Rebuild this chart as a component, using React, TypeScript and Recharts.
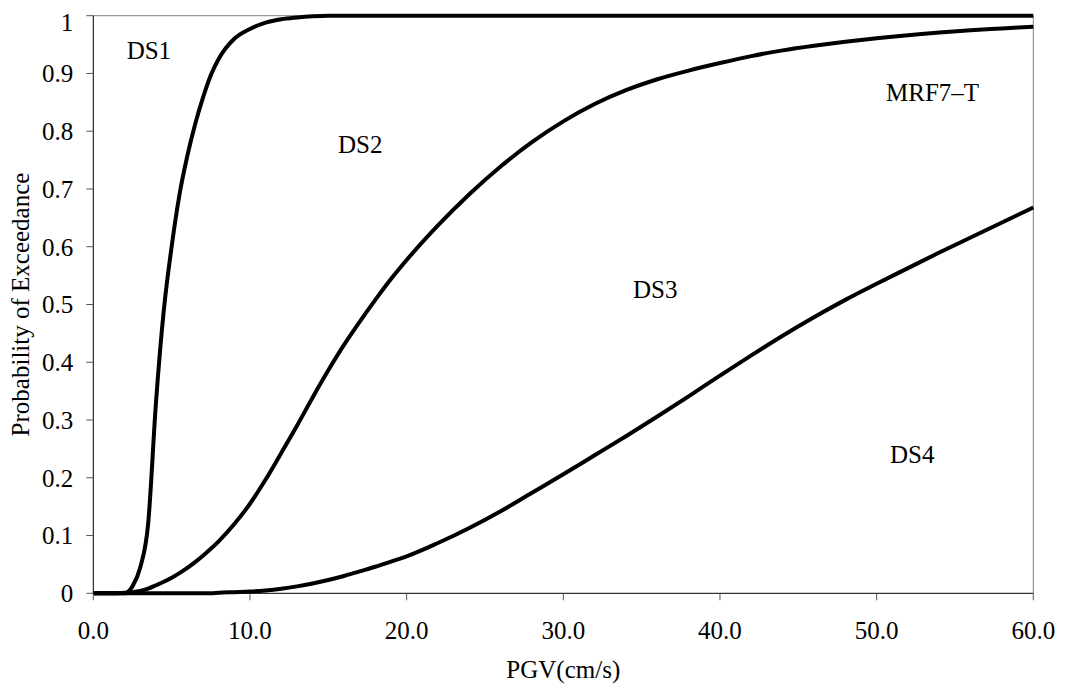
import React from "react";
import { LineChart, Line, XAxis, YAxis, ReferenceLine, ReferenceDot } from "recharts";

const pgv = [0, 1, 2, 2.5, 3, 3.5, 4, 4.5, 5, 5.5, 6, 6.5, 7, 7.5, 8, 9, 10, 11, 12, 13, 14, 15, 16, 17, 18, 19, 20, 22, 24, 26, 28, 30, 32, 34, 36, 38, 40, 42, 44, 46, 48, 50, 52, 54, 56, 58, 60];

const curve1 = [0, 0, 0, 0.012, 0.045, 0.12, 0.33, 0.49, 0.6, 0.69, 0.757, 0.812, 0.858, 0.897, 0.925, 0.96, 0.977, 0.988, 0.994, 0.997, 0.999, 1, 1, 1, 1, 1, 1, 1, 1, 1, 1, 1, 1, 1, 1, 1, 1, 1, 1, 1, 1, 1, 1, 1, 1, 1, 1];

const curve2 = [0, 0, 0.001, 0.002, 0.004, 0.008, 0.014, 0.02, 0.027, 0.035, 0.044, 0.054, 0.065, 0.077, 0.09, 0.12, 0.155, 0.197, 0.243, 0.29, 0.339, 0.386, 0.43, 0.47, 0.508, 0.544, 0.577, 0.637, 0.691, 0.739, 0.781, 0.817, 0.847, 0.871, 0.89, 0.905, 0.918, 0.93, 0.94, 0.948, 0.955, 0.961, 0.966, 0.971, 0.975, 0.978, 0.981];

const curve3 = [0, 0, 0, 0, 0, 0, 0, 0, 0, 0, 0, 0, 0, 0, 0.001, 0.002, 0.003, 0.005, 0.008, 0.012, 0.017, 0.023, 0.03, 0.038, 0.046, 0.055, 0.064, 0.087, 0.113, 0.142, 0.174, 0.206, 0.239, 0.272, 0.306, 0.341, 0.377, 0.412, 0.446, 0.478, 0.508, 0.536, 0.563, 0.59, 0.616, 0.642, 0.668];

const xTicks = [0, 10, 20, 30, 40, 50, 60];
const yTicks = [0, 0.1, 0.2, 0.3, 0.4, 0.5, 0.6, 0.7, 0.8, 0.9, 1];

const annotations = [
  { text: "DS1", x: 2.13, y: 0.9245 },
  { text: "DS2", x: 15.62, y: 0.763 },
  { text: "MRF7\u2013T", x: 50.6, y: 0.853 },
  { text: "DS3", x: 34.45, y: 0.511 },
  { text: "DS4", x: 50.85, y: 0.226 },
];

const data = pgv.map((x, i) => ({ x, c1: curve1[i], c2: curve2[i], c3: curve3[i] }));

const FONT = "Liberation Serif, Times New Roman, Times, serif";
const FS = 25;

export default function App() {
  return (
    <div style={{ fontFamily: FONT }}>
      <LineChart
        width={1059}
        height={687}
        data={data}
        margin={{ top: 7.7, right: 33.7, bottom: 0, left: 0 }}
      >
        <XAxis
          dataKey="x"
          type="number"
          domain={[0, 60]}
          ticks={xTicks}
          tickFormatter={(v: number) => v.toFixed(1)}
          height={101.7}
          tickSize={7}
          tickMargin={21}
          axisLine={{ stroke: "#000", strokeWidth: 1 }}
          tickLine={{ stroke: "#555" }}
          tick={{ fontFamily: FONT, fontSize: FS, fill: "#000" }}
          label={{
            content: (props: any) => {
              const vb = props.viewBox || {};
              return (
                <text
                  x={vb.x + vb.width / 2}
                  y={vb.y + 84.7}
                  textAnchor="middle"
                  style={{ fontFamily: FONT, fontSize: FS }}
                  fill="#000"
                >
                  PGV(cm/s)
                </text>
              );
            },
          }}
        />
        <YAxis
          type="number"
          domain={[0, 1]}
          ticks={yTicks}
          width={85.3}
          tickSize={7}
          tickMargin={13}
          axisLine={{ stroke: "#000", strokeWidth: 1 }}
          tickLine={{ stroke: "#555" }}
          tick={{ fontFamily: FONT, fontSize: FS, fill: "#000" }}
          label={{
            content: (props: any) => {
              const vb = props.viewBox || {};
              const cx = 21;
              const cy = vb.y + vb.height / 2;
              return (
                <text
                  x={cx}
                  y={cy}
                  transform={`rotate(-90 ${cx} ${cy})`}
                  textAnchor="middle"
                  style={{ fontFamily: FONT, fontSize: FS }}
                  fill="#000"
                >
                  Probability of Exceedance
                </text>
              );
            },
          }}
        />
        <ReferenceLine y={1} stroke="#808080" strokeWidth={1} />
        <ReferenceLine x={60} stroke="#808080" strokeWidth={1} />
        <Line dataKey="c3" type="monotone" stroke="#000" strokeWidth={4} dot={false} isAnimationActive={false} />
        <Line dataKey="c2" type="monotone" stroke="#000" strokeWidth={4} dot={false} isAnimationActive={false} />
        <Line dataKey="c1" type="monotone" stroke="#000" strokeWidth={4} dot={false} isAnimationActive={false} />
        {annotations.map((a) => (
          <ReferenceDot
            key={a.text}
            x={a.x}
            y={a.y}
            r={0.01}
            fill="none"
            stroke="none"
            label={{
              content: (props: any) => {
                const vb = props.viewBox || {};
                return (
                  <text
                    x={vb.x + (vb.width || 0) / 2}
                    y={vb.y + (vb.height || 0) / 2}
                    textAnchor="start"
                    style={{ fontFamily: FONT, fontSize: FS }}
                    fill="#000"
                  >
                    {a.text}
                  </text>
                );
              },
            }}
          />
        ))}
      </LineChart>
    </div>
  );
}
